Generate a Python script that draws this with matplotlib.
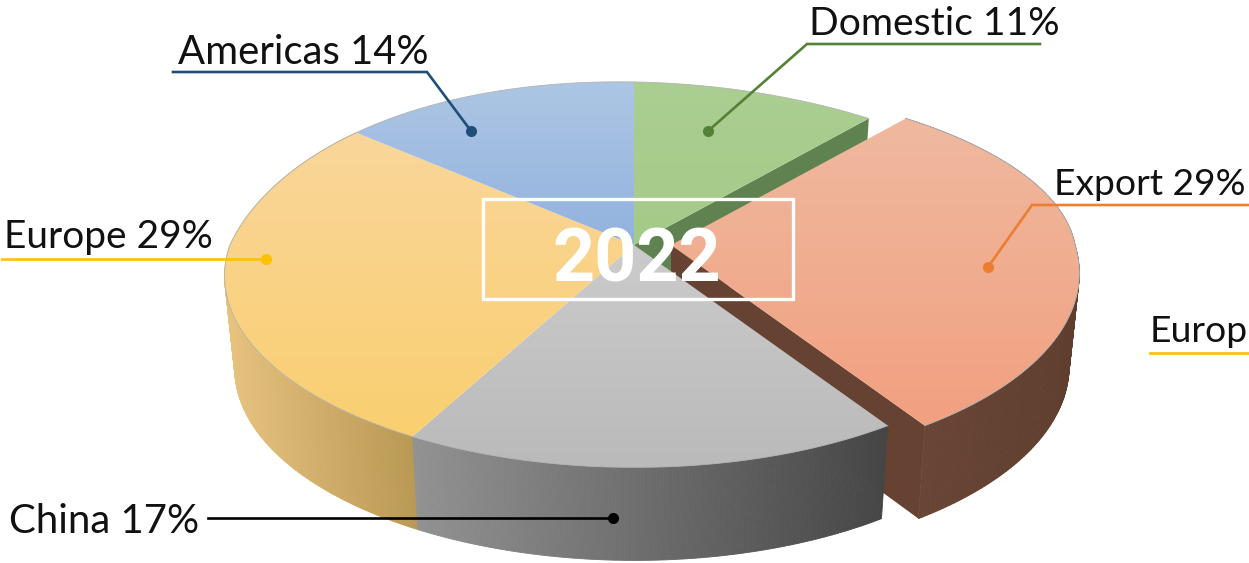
import numpy as np
import matplotlib
matplotlib.use("Agg")
import matplotlib.pyplot as plt
from matplotlib.collections import PolyCollection
from matplotlib.colors import to_rgb
from matplotlib.patches import Polygon, Rectangle

# chart values, clockwise from twelve o'clock
names = ["Domestic", "Export", "China", "Europe", "Americas"]
shares = [11, 29, 17, 29, 14]
title = "2022"
cut_label = "Europ"

# top face gradient (upper, lower colour) and side wall gradient (left, right)
top_colors = {
    "Domestic": ("#abce92", "#a4ca87"),
    "Export": ("#efb99f", "#f2a080"),
    "China": ("#cbcbcb", "#bababa"),
    "Europe": ("#fad69a", "#f9cf70"),
    "Americas": ("#adc6e4", "#92b2de"),
}
wall_colors = {
    "Export": ("#6a4636", "#5f3e2e"),
    "China": ("#929292", "#464646"),
    "Europe": ("#e6c27e", "#ba9955"),
}
line_colors = {
    "Domestic": "#548235",
    "Export": "#ed7d31",
    "China": "#000000",
    "Europe": "#ffc000",
    "Americas": "#1f4e79",
}

# leader lines in image pixels: label x, baseline y, then line points ending at the dot
label_pos = {
    "Domestic": (809, 35),
    "Export": (1054, 195),
    "China": (9, 533),
    "Europe": (4, 248),
    "Americas": (178, 64),
}
label_size = {
    "Domestic": 28.2,
    "Export": 26.8,
    "China": 28.9,
    "Europe": 28,
    "Americas": 28.8,
}
leaders = {
    "Domestic": [(1040, 44), (807, 44), (708, 131)],
    "Export": [(1249, 205), (1032, 205), (988, 267)],
    "China": [(208, 518), (613, 518)],
    "Europe": [(2, 259), (266, 259)],
    "Americas": [(173, 72), (427, 72), (471, 131)],
}

# pie projection, in image pixels
CX, CY = 634, 245
RX, RY = 404, 188
PERSP = 0.153
SHEAR_X, SHEAR_Y = 23, 13
BACK_X, BACK_Y = 28, 7
DEPTH = 93
BOTTOM_SCALE = 0.975
EXPLODE = 37


def project(theta, low=False, dx=0):
    """angle in degrees (clockwise from the top) -> pixel position on the rim"""
    t = np.radians(theta)
    u, v = np.sin(t), np.cos(t)
    d = 1 + PERSP * v
    front = np.maximum(-v, 0)
    back = np.maximum(v, 0)
    x = (RX * u - SHEAR_X * front ** 2 + BACK_X * back * (1 - back)) / d
    y = (-RY * v + SHEAR_Y * u * front + BACK_Y * u * back) / d
    if low:
        x = x * BOTTOM_SCALE
        y = y + DEPTH
    return CX + dx + x, CY + y


def rim(start, stop, low=False, dx=0):
    th = np.linspace(start, stop, 160)
    x, y = project(th, low, dx)
    return np.column_stack([x, y])


def apex(low=False, dx=0):
    return (CX + dx, CY + (DEPTH if low else 0))


def mix(c0, c1, f):
    return tuple((1 - f) * a + f * b for a, b in zip(to_rgb(c0), to_rgb(c1)))


def draw_top(ax, start, stop, colors, dx, z):
    pts = np.vstack([[apex(dx=dx)], rim(start, stop, dx=dx)])
    x0, y0 = pts.min(axis=0)
    x1, y1 = pts.max(axis=0)
    n = 64
    f = np.linspace(0, 1, n)[:, None]
    img = (1 - f)[..., None] * np.array(to_rgb(colors[0])) + f[..., None] * np.array(to_rgb(colors[1]))
    im = ax.imshow(img, extent=(x0, x1, y1, y0), aspect="auto", zorder=z, interpolation="bilinear")
    clip = Polygon(pts, closed=True, transform=ax.transData, fc="none", ec="none")
    ax.add_patch(clip)
    im.set_clip_path(clip)
    arc = rim(start, stop, dx=dx)
    ax.plot(arc[:, 0], arc[:, 1], color="#b4b4b4", lw=0.6, zorder=z + 0.1)


def draw_wall(ax, start, stop, colors, dx, z):
    up = rim(start, stop, dx=dx)
    lo = rim(start, stop, low=True, dx=dx)
    quads = []
    fills = []
    xmin, xmax = lo[:, 0].min(), lo[:, 0].max()
    for i in range(len(up) - 1):
        quads.append([up[i], up[i + 1], lo[i + 1], lo[i]])
        fills.append(mix(colors[0], colors[1], (lo[i, 0] - xmin) / (xmax - xmin)))
    ax.add_collection(PolyCollection(quads, facecolors=fills, edgecolors=fills, linewidths=0.6, zorder=z))


fig = plt.figure(figsize=(12.49, 5.63), dpi=100)
ax = fig.add_axes([0, 0, 1, 1])

edges = np.concatenate([[0], np.cumsum(shares)]) * 3.6
slices = {n: (edges[i], edges[i + 1]) for i, n in enumerate(names)}
dom = slices["Domestic"]
exp = slices["Export"]

# cut faces first, the tops hide most of them
p = project(dom[1])
q = project(dom[1], low=True)
ax.add_patch(Polygon([apex(), p, q, apex(low=True)], fc="#5f8350", ec="none", zorder=1))

p = project(exp[1], dx=EXPLODE)
q = project(exp[1], low=True, dx=EXPLODE)
ax.add_patch(Polygon([apex(dx=EXPLODE), p, q, apex(low=True, dx=EXPLODE)], fc="#654232", ec="none", zorder=2))

draw_wall(ax, exp[0], exp[1], wall_colors["Export"], EXPLODE, 2)
draw_wall(ax, *slices["Europe"], wall_colors["Europe"], 0, 3)
draw_wall(ax, *slices["China"], wall_colors["China"], 0, 3.2)

for n in names:
    if n == "Export":
        continue
    draw_top(ax, *slices[n], top_colors[n], 0, 4)
draw_top(ax, exp[0], exp[1], top_colors["Export"], EXPLODE, 5)

# leader lines and labels
for n, share in zip(names, shares):
    pts = np.array(leaders[n])
    ax.plot(pts[:, 0], pts[:, 1], color=line_colors[n], lw=1.9, zorder=6, solid_joinstyle="miter")
    ax.plot(pts[-1, 0], pts[-1, 1], "o", color=line_colors[n], ms=8, mew=0, zorder=6)
    ax.text(label_pos[n][0], label_pos[n][1], f"{n} {share}%", fontsize=label_size[n], family="Lato",
            va="baseline", ha="left", color="#111111", zorder=7)

# second Europe label, cut by the picture edge in the source
ax.plot([1150, 1249], [353, 353], color=line_colors["Europe"], lw=1.9, zorder=6)
ax.text(1150, 342, cut_label, fontsize=26.8, family="Lato", va="baseline", ha="left",
        color="#111111", zorder=7)

# centre box with the year
ax.add_patch(Rectangle((483, 199), 310, 100, fc="none", ec="white", lw=2.4, zorder=8))
ax.text(637, 282, title, fontsize=53, family="Roboto", fontweight="bold", color="white",
        ha="center", va="baseline", zorder=9)

ax.set_xlim(0, 1249)
ax.set_ylim(563, 0)
ax.axis("off")
fig.savefig("out.png", dpi=100, facecolor="white")
